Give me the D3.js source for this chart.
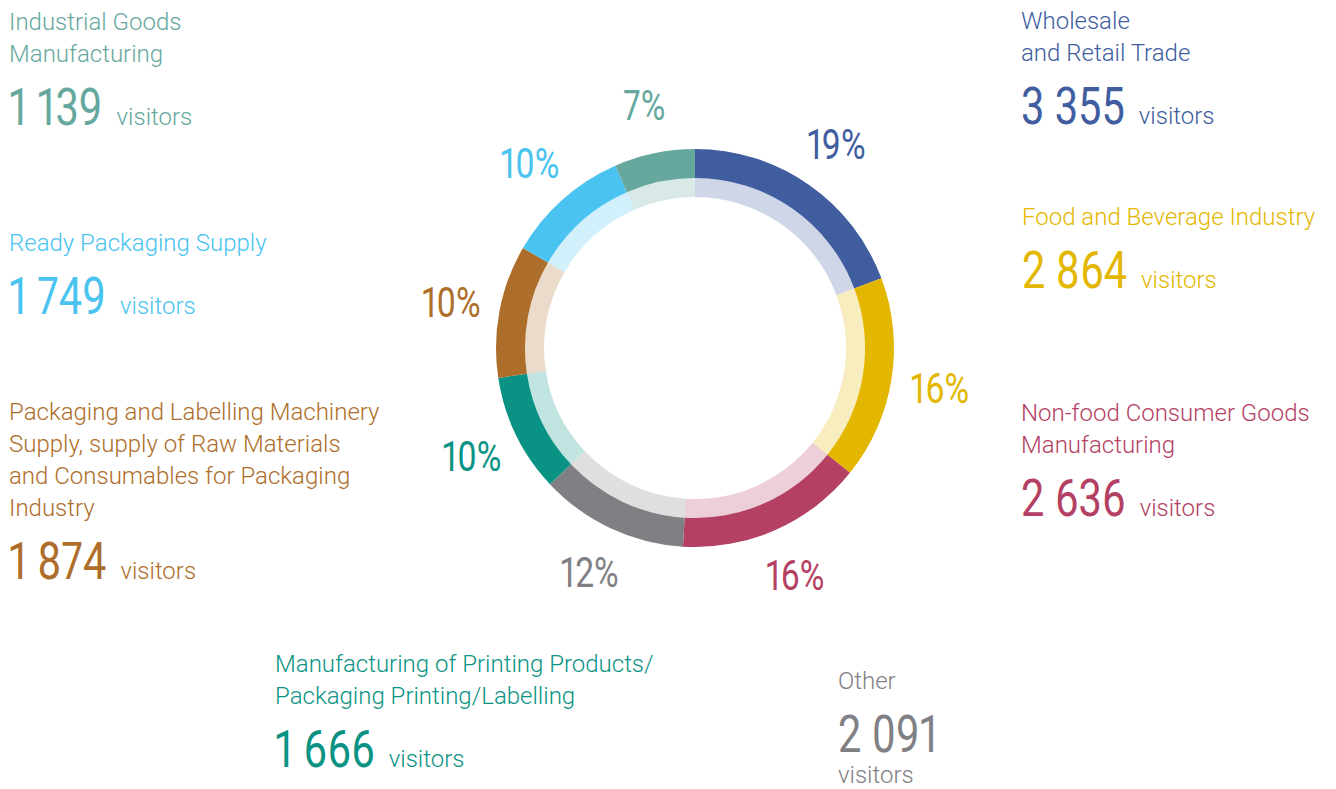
<!DOCTYPE html>
<html>
<head>
<meta charset="utf-8">
<script src="https://cdn.jsdelivr.net/npm/d3@7"></script>
<style>
  html, body { margin: 0; padding: 0; background: #ffffff; }
  svg { display: block; }
  text { font-family: Roboto, "Noto Sans", sans-serif; }
  .num, .pct text { font-variant-numeric: proportional-nums; font-feature-settings: "pnum" 1; }
</style>
</head>
<body>
<svg id="chart" width="1336" height="789"></svg>
<script>
// ---- data ----
const categories = [
  ["Wholesale", "and Retail Trade"],
  ["Food and Beverage Industry"],
  ["Non-food Consumer Goods", "Manufacturing"],
  ["Other"],
  ["Manufacturing of Printing Products/", "Packaging Printing/Labelling"],
  ["Packaging and Labelling Machinery", "Supply, supply of Raw Materials", "and Consumables for Packaging", "Industry"],
  ["Ready Packaging Supply"],
  ["Industrial Goods", "Manufacturing"]
];
const visitors = [3355, 2864, 2636, 2091, 1666, 1874, 1749, 1139];
const percentLabels = ["19%", "16%", "16%", "12%", "10%", "10%", "10%", "7%"];
const unitLabel = "visitors";
const colors = ["#405da0", "#e3b700", "#b44163", "#808084", "#0a9384", "#ae6e2b", "#4ac3f0", "#66a89e"];

// ---- layout ----
const W = 1336, H = 789;
const cx = 695, cy = 348;
const rOuter = 199, rMid = 170, rInner = 151, rLabel = 248;
// label block anchors (x, first baseline) and style per category
const blocks = [
  {x: 1021, y: 29,  stacked: false},
  {x: 1022, y: 225, stacked: false},
  {x: 1021, y: 421, stacked: false},
  {x: 838,  y: 689, stacked: true},
  {x: 275,  y: 672, stacked: false},
  {x: 9,    y: 420, stacked: false},
  {x: 9,    y: 251, stacked: false},
  {x: 9,    y: 30,  stacked: false}
];
const lineH = 32, numGap = 63;
const numSize = 52, numSX = 0.8;
const pctSize = 42, pctSX = 0.8;
const txtSize = 24;

const svg = d3.select("#chart");
const fmt = d3.formatLocale({decimal: ".", thousands: " ", grouping: [3], currency: ["", ""]}).format(",");

const pie = d3.pie().sort(null).value(d => d)(visitors);
const arcOuter = d3.arc().innerRadius(rMid).outerRadius(rOuter);
const arcInner = d3.arc().innerRadius(rInner).outerRadius(rMid);
const arcLabel = d3.arc().innerRadius(rLabel).outerRadius(rLabel);

const g = svg.append("g").attr("transform", `translate(${cx},${cy})`);

g.selectAll("path.inner").data(pie).join("path")
  .attr("class", "inner")
  .attr("d", arcInner)
  .attr("fill", (d, i) => colors[i])
  .attr("fill-opacity", 0.25);

g.selectAll("path.outer").data(pie).join("path")
  .attr("class", "outer")
  .attr("d", arcOuter)
  .attr("fill", (d, i) => colors[i]);

// percentage labels
g.selectAll("g.pct").data(pie).join("g")
  .attr("class", "pct")
  .attr("transform", d => {
    const [x, y] = arcLabel.centroid(d);
    return `translate(${x},${y + pctSize * 0.711 / 2}) scale(${pctSX},1)`;
  })
  .append("text")
  .attr("text-anchor", "middle")
  .attr("font-size", pctSize)
  .attr("font-weight", 400)
  .attr("fill", (d, i) => colors[i])
  .text((d, i) => percentLabels[i]);

// category label blocks
categories.forEach((lines, i) => {
  const b = blocks[i];
  const col = colors[i];
  const grp = svg.append("g").attr("fill", col);
  lines.forEach((ln, j) => {
    grp.append("text")
      .attr("x", b.x).attr("y", b.y + j * lineH)
      .attr("font-size", txtSize).attr("font-weight", 300)
      .text(ln);
  });
  const numY = b.y + (lines.length - 1) * lineH + numGap;
  const ng = grp.append("g").attr("transform", `translate(${b.x},${numY}) scale(${numSX},1)`);
  const nt = ng.append("text")
    .attr("class", "num")
    .attr("x", 0).attr("y", 0)
    .attr("font-size", numSize).attr("font-weight", 400)
    .text(fmt(visitors[i]));
  const w = nt.node().getComputedTextLength() * numSX;
  if (b.stacked) {
    grp.append("text")
      .attr("x", b.x).attr("y", numY + 31)
      .attr("font-size", txtSize).attr("font-weight", 300)
      .text(unitLabel);
  } else {
    grp.append("text")
      .attr("x", b.x + w + 14).attr("y", numY)
      .attr("font-size", txtSize).attr("font-weight", 300)
      .text(unitLabel);
  }
});
</script>
</body>
</html>
